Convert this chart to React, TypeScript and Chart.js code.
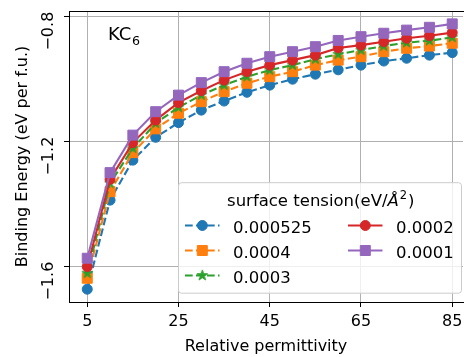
import React, { useEffect, useRef } from 'react';
import { Chart, registerables } from 'chart.js';

Chart.register(...registerables);

// ---- data ----
const permittivity = [5, 10, 15, 20, 25, 30, 35, 40, 45, 50, 55, 60, 65, 70, 75, 80, 85];
const tension000525 = [-1.672, -1.387, -1.259, -1.186, -1.139, -1.099, -1.070, -1.042, -1.019, -1.000, -0.984, -0.970, -0.955, -0.942, -0.933, -0.923, -0.915];
const tension0004 = [-1.637, -1.360, -1.235, -1.159, -1.109, -1.072, -1.040, -1.013, -0.992, -0.976, -0.955, -0.939, -0.928, -0.912, -0.901, -0.894, -0.885];
const tension0003 = [-1.621, -1.333, -1.221, -1.141, -1.090, -1.051, -1.019, -0.992, -0.971, -0.955, -0.936, -0.920, -0.907, -0.894, -0.883, -0.877, -0.866];
const tension0002 = [-1.600, -1.320, -1.203, -1.131, -1.075, -1.037, -1.003, -0.976, -0.955, -0.939, -0.923, -0.900, -0.891, -0.880, -0.869, -0.861, -0.851];
const tension0001 = [-1.573, -1.299, -1.179, -1.104, -1.051, -1.011, -0.976, -0.949, -0.928, -0.912, -0.896, -0.876, -0.864, -0.853, -0.843, -0.834, -0.823];
const seriesLabels = ['0.000525', '0.0004', '0.0003', '0.0002', '0.0001'];
const xTickValues = [5, 25, 45, 65, 85];
const yTickValues = [-1.6, -1.2, -0.8];
const xTitle = 'Relative permittivity';
const yTitle = 'Binding Energy (eV per f.u.)';
const legendTitle = 'surface tension(eV/';

const COLORS = ['#1f77b4', '#ff7f0e', '#2ca02c', '#d62728', '#9467bd'];
const DASH = [7.7, 3.3];
const FONT = "'DejaVu Sans', sans-serif";

function makeStar(color: string, outer: number): HTMLCanvasElement {
  const size = Math.ceil(outer * 2 + 3);
  const c = document.createElement('canvas');
  c.width = size;
  c.height = size;
  const g = c.getContext('2d')!;
  const cx = size / 2;
  const cy = size / 2;
  const inner = outer * 0.381966;
  g.beginPath();
  for (let i = 0; i < 10; i++) {
    const r = i % 2 === 0 ? outer : inner;
    const a = -Math.PI / 2 + (i * Math.PI) / 5;
    const px = cx + r * Math.cos(a);
    const py = cy + r * Math.sin(a);
    if (i === 0) g.moveTo(px, py);
    else g.lineTo(px, py);
  }
  g.closePath();
  g.fillStyle = color;
  g.fill();
  g.strokeStyle = color;
  g.lineWidth = 1;
  g.lineJoin = 'miter';
  g.stroke();
  return c;
}

function drawMarker(ctx: CanvasRenderingContext2D, style: any, x: number, y: number, color: string) {
  ctx.save();
  ctx.fillStyle = color;
  ctx.strokeStyle = color;
  ctx.lineWidth = 1;
  ctx.setLineDash([]);
  if (style === 'circle') {
    ctx.beginPath();
    ctx.arc(x, y, 5, 0, Math.PI * 2);
    ctx.fill();
    ctx.stroke();
  } else if (style === 'rect') {
    ctx.beginPath();
    ctx.rect(x - 5, y - 5, 10, 10);
    ctx.fill();
    ctx.stroke();
  } else {
    ctx.drawImage(style, x - style.width / 2, y - style.height / 2);
  }
  ctx.restore();
}

export default function App() {
  const canvasRef = useRef<HTMLCanvasElement | null>(null);

  useEffect(() => {
    const canvas = canvasRef.current;
    if (!canvas) return;
    const star = makeStar(COLORS[2], 5.6);
    const values = [tension000525, tension0004, tension0003, tension0002, tension0001];
    const styles: any[] = ['circle', 'rect', star, 'circle', 'rect'];
    const dashed = [true, true, true, false, false];

    const datasets = values.map((vals, i) => ({
      label: seriesLabels[i],
      data: permittivity.map((x, j) => ({ x, y: vals[j] })),
      borderColor: COLORS[i],
      backgroundColor: COLORS[i],
      borderWidth: 2.1,
      borderDash: dashed[i] ? DASH : [],
      pointStyle: styles[i],
      pointRadius: styles[i] === 'rect' ? 7.07 : 5,
      pointBorderWidth: 1,
      pointBorderColor: COLORS[i],
      pointBackgroundColor: COLORS[i],
      tension: 0,
      fill: false,
      order: 5 - i,
    }));

    const overlay = {
      id: 'overlay',
      afterDraw(chart: any) {
        const ctx: CanvasRenderingContext2D = chart.ctx;
        const { left, right, top, bottom } = chart.chartArea;
        const ys = chart.scales.y;
        ctx.save();
        // top spine
        ctx.strokeStyle = '#000';
        ctx.lineWidth = 1;
        ctx.beginPath();
        ctx.moveTo(left, Math.round(top) + 0.5);
        ctx.lineTo(right + 2, Math.round(top) + 0.5);
        ctx.stroke();

        // y tick labels (rotated)
        ctx.fillStyle = '#000';
        ctx.font = `16px ${FONT}`;
        yTickValues.forEach((v) => {
          const py = ys.getPixelForValue(v);
          ctx.save();
          ctx.translate(53, py - 5);
          ctx.rotate(-Math.PI / 2);
          ctx.textAlign = 'right';
          ctx.textBaseline = 'alphabetic';
          ctx.fillText(v.toFixed(1).replace('-', '\u2212'), 0, 0);
          ctx.restore();
        });

        // y title
        ctx.save();
        ctx.translate(27, (top + bottom) / 2);
        ctx.rotate(-Math.PI / 2);
        ctx.textAlign = 'center';
        ctx.textBaseline = 'alphabetic';
        ctx.font = `16px ${FONT}`;
        ctx.fillText(yTitle, 0, 0);
        ctx.restore();

        // KC6 annotation
        ctx.textAlign = 'left';
        ctx.textBaseline = 'alphabetic';
        ctx.font = `18px ${FONT}`;
        ctx.fillText('KC', 108, 40.3);
        const kcw = ctx.measureText('KC').width;
        ctx.font = `12.6px ${FONT}`;
        ctx.fillText('6', 108 + kcw + 0.5, 45);

        // legend
        const bx = 178.5, by = 182.7, bw = 283, bh = 110.5, br = 3;
        ctx.beginPath();
        ctx.moveTo(bx + br, by);
        ctx.lineTo(bx + bw - br, by);
        ctx.arcTo(bx + bw, by, bx + bw, by + br, br);
        ctx.lineTo(bx + bw, by + bh - br);
        ctx.arcTo(bx + bw, by + bh, bx + bw - br, by + bh, br);
        ctx.lineTo(bx + br, by + bh);
        ctx.arcTo(bx, by + bh, bx, by + bh - br, br);
        ctx.lineTo(bx, by + br);
        ctx.arcTo(bx, by, bx + br, by, br);
        ctx.closePath();
        ctx.fillStyle = 'rgba(255,255,255,0.8)';
        ctx.fill();
        ctx.strokeStyle = '#cccccc';
        ctx.lineWidth = 1;
        ctx.stroke();

        // legend title
        ctx.fillStyle = '#000';
        const fN = `16.5px ${FONT}`;
        const fI = `italic 16.5px ${FONT}`;
        const fS = `11.5px ${FONT}`;
        ctx.font = fN;
        const w1 = ctx.measureText(legendTitle).width;
        const w4 = ctx.measureText(')').width;
        ctx.font = fI;
        const w2 = ctx.measureText('\u00C5').width;
        ctx.font = fS;
        const w3 = ctx.measureText('2').width;
        const total = w1 + w2 + 1 + w3 + 1 + w4;
        let tx = 320.8 - total / 2;
        const tb = 206;
        ctx.font = fN;
        ctx.fillText(legendTitle, tx, tb);
        tx += w1;
        ctx.font = fI;
        ctx.fillText('\u00C5', tx, tb);
        tx += w2 + 1;
        ctx.font = fS;
        ctx.fillText('2', tx, tb - 7);
        tx += w3 + 1;
        ctx.font = fN;
        ctx.fillText(')', tx, tb);

        // legend entries
        const rowsY = [225.5, 250.5, 275.5];
        const cols = [
          { hx0: 185, hx1: 219.5, mx: 202.3, tx: 233 },
          { hx0: 348, hx1: 382.5, mx: 365.3, tx: 396 },
        ];
        seriesLabels.forEach((lab, i) => {
          const col = cols[i < 3 ? 0 : 1];
          const cy = rowsY[i < 3 ? i : i - 3];
          ctx.save();
          ctx.strokeStyle = COLORS[i];
          ctx.lineWidth = 2.1;
          ctx.setLineDash(dashed[i] ? DASH : []);
          ctx.beginPath();
          ctx.moveTo(col.hx0, cy);
          ctx.lineTo(col.hx1, cy);
          ctx.stroke();
          ctx.restore();
          drawMarker(ctx, styles[i], col.mx, cy, COLORS[i]);
          ctx.fillStyle = '#000';
          ctx.font = fN;
          ctx.textAlign = 'left';
          ctx.fillText(lab, col.tx, cy + 7.2);
        });
        ctx.restore();
      },
    };

    const chart = new Chart(canvas, {
      type: 'line',
      data: { datasets },
      options: {
        responsive: false,
        animation: false,
        devicePixelRatio: 1,
        layout: { autoPadding: false, padding: { left: 0, right: 1, top: 11, bottom: 0 } },
        plugins: {
          legend: { display: false },
          tooltip: { enabled: false },
          title: { display: false },
        },
        scales: {
          x: {
            type: 'linear',
            min: 1,
            max: 87.36,
            afterBuildTicks: (s: any) => {
              s.ticks = xTickValues.map((v) => ({ value: v }));
            },
            afterFit: (s: any) => {
              s.height = 55;
              s.paddingLeft = 0;
              s.paddingRight = 0;
            },
            grid: {
              color: '#b0b0b0',
              lineWidth: 1,
              drawTicks: true,
              tickLength: 5,
              tickColor: '#000',
              tickWidth: 1,
            },
            border: { display: true, color: '#000', width: 1 },
            ticks: {
              color: '#000',
              font: { family: FONT, size: 16 },
              padding: 5,
              maxRotation: 0,
              minRotation: 0,
              autoSkip: false,
              callback: (v: any) => String(v),
            },
            title: {
              display: true,
              text: xTitle,
              color: '#000',
              font: { family: FONT, size: 16 },
              padding: { top: 0, bottom: 1 },
            },
          },
          y: {
            type: 'linear',
            min: -1.713,
            max: -0.7818,
            afterBuildTicks: (s: any) => {
              s.ticks = yTickValues.map((v) => ({ value: v }));
            },
            afterFit: (s: any) => {
              s.width = 69;
              s.paddingTop = 0;
              s.paddingBottom = 0;
            },
            grid: {
              color: '#b0b0b0',
              lineWidth: 1,
              drawTicks: true,
              tickLength: 5,
              tickColor: '#000',
              tickWidth: 1,
            },
            border: { display: true, color: '#000', width: 1 },
            ticks: { display: false },
            title: { display: false },
          },
        },
      },
      plugins: [overlay],
    } as any);

    return () => chart.destroy();
  }, []);

  return (
    <div
      style={{
        position: 'fixed',
        left: 0,
        top: 0,
        width: 464,
        height: 357,
        overflow: 'hidden',
        background: '#ffffff',
      }}
    >
      <canvas ref={canvasRef} width={464} height={357} style={{ width: 464, height: 357, display: 'block' }} />
    </div>
  );
}
